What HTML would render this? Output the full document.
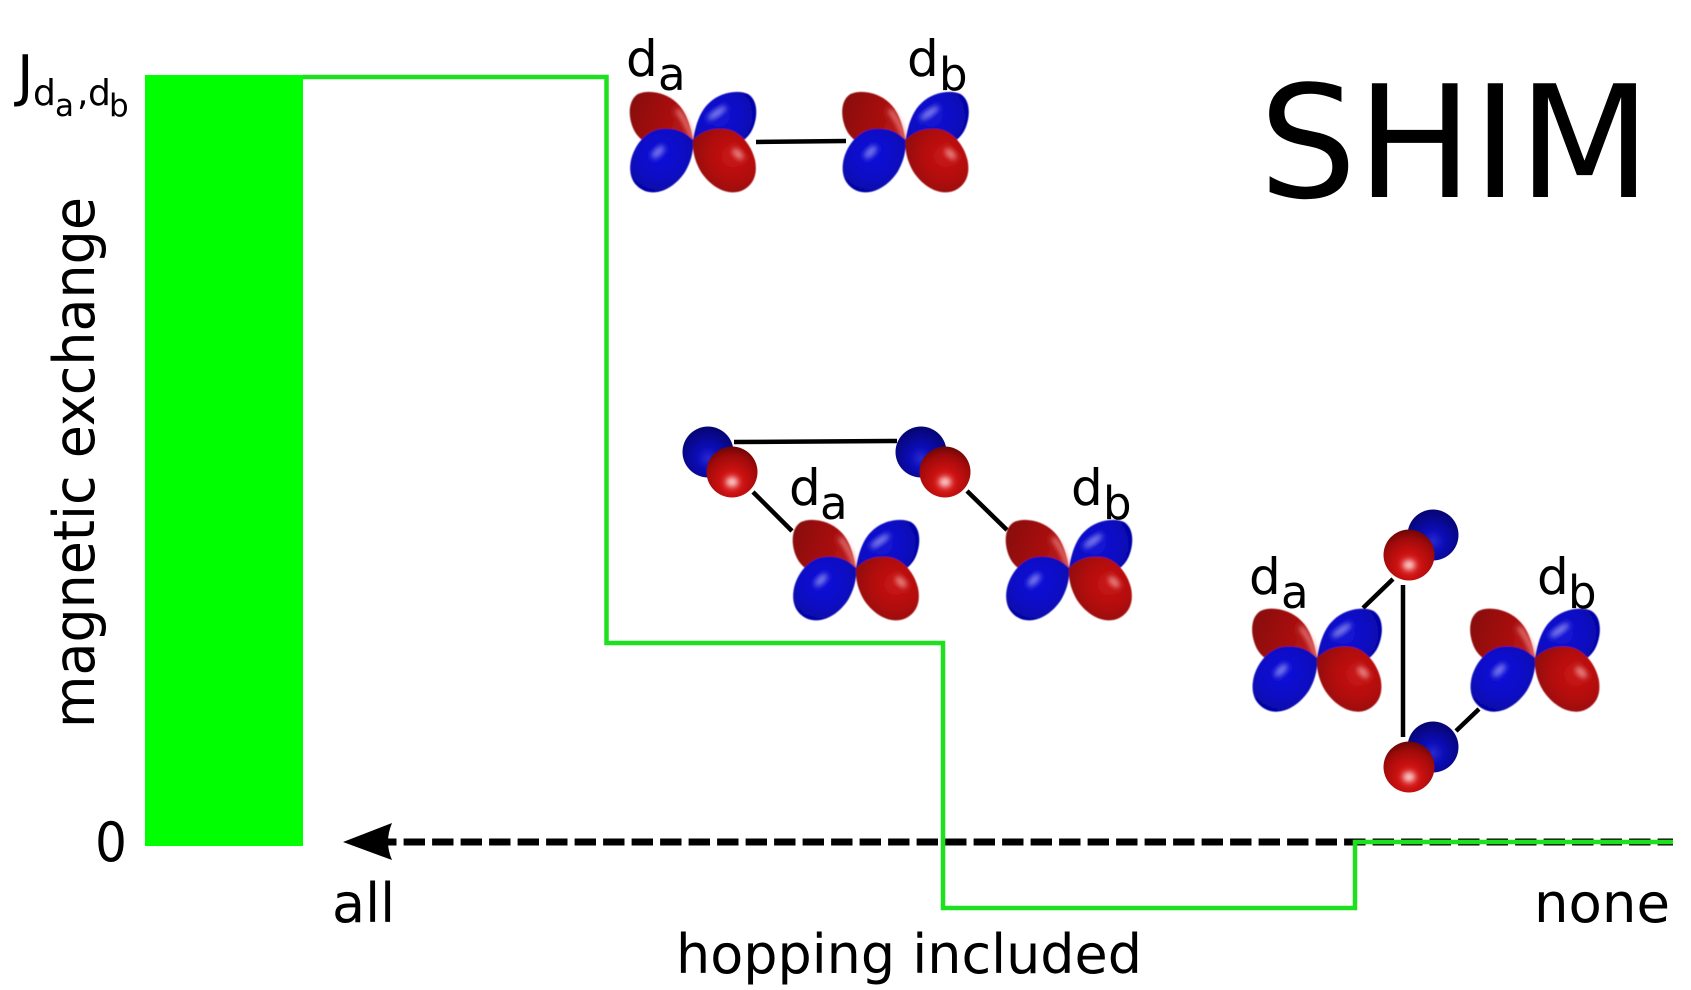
<!DOCTYPE html>
<html><head><meta charset="utf-8"><style>
html,body{margin:0;padding:0;background:#fff;}
svg{display:block;}
text{font-family:"DejaVu Sans","Liberation Sans",sans-serif;fill:#000;}
</style></head><body>
<svg width="1691" height="990" viewBox="0 0 1691 990" xmlns="http://www.w3.org/2000/svg">
<defs>
<filter id="bl2" x="-50%" y="-50%" width="200%" height="200%"><feGaussianBlur stdDeviation="2.6"/></filter>
<filter id="soft" x="-10%" y="-10%" width="120%" height="120%"><feGaussianBlur stdDeviation="0.5"/></filter>
<radialGradient id="bl" gradientUnits="userSpaceOnUse" cx="-33" cy="14" r="50">
<stop offset="0" stop-color="#1414dc"/><stop offset=".5" stop-color="#0808c4"/><stop offset=".85" stop-color="#06069e"/><stop offset="1" stop-color="#04047c"/></radialGradient>
<radialGradient id="rl" gradientUnits="userSpaceOnUse" cx="40" cy="16" r="56">
<stop offset="0" stop-color="#cc1616"/><stop offset=".45" stop-color="#b00c0c"/><stop offset=".8" stop-color="#8c0808"/><stop offset="1" stop-color="#680505"/></radialGradient>
<radialGradient id="bu" gradientUnits="userSpaceOnUse" cx="26" cy="-24" r="48">
<stop offset="0" stop-color="#1818d8"/><stop offset=".55" stop-color="#0808c0"/><stop offset="1" stop-color="#04048c"/></radialGradient>
<linearGradient id="ru" gradientUnits="userSpaceOnUse" x1="-62" y1="-34" x2="-6" y2="-14">
<stop offset="0" stop-color="#8a0c0c"/><stop offset=".6" stop-color="#a61010"/><stop offset="1" stop-color="#b81414"/></linearGradient>
<radialGradient id="sb" cx=".5" cy=".62" r=".62">
<stop offset="0" stop-color="#2828d0"/><stop offset=".35" stop-color="#0c0cb8"/><stop offset="1" stop-color="#050570"/></radialGradient>
<radialGradient id="sr" cx=".5" cy=".7" r=".75">
<stop offset="0" stop-color="#e83030"/><stop offset=".35" stop-color="#c81010"/><stop offset=".7" stop-color="#a00a0a"/><stop offset="1" stop-color="#5a0505"/></radialGradient>
<g id="orb" filter="url(#soft)">
<path d="M0,0 C-2,-12 -6,-28 -16,-37 C-26,-47 -44,-51 -55,-46 C-65,-40 -65,-24 -60,-12 C-55,0 -44,6 -30,8 C-18,10 -8,6 0,0 Z" fill="url(#ru)"/>
<path d="M0,1 C-3,-10 -9,-22 -16,-30" stroke="#ef8a8a" stroke-width="4" fill="none" filter="url(#bl2)"/>
<path d="M0,0 C2,-12 6,-28 16,-37 C26,-47 44,-51 55,-46 C65,-40 65,-24 60,-12 C55,0 44,6 30,8 C18,10 8,6 0,0 Z" fill="url(#bu)"/>
<ellipse cx="24" cy="-27" rx="11" ry="3" transform="rotate(-35 24 -27)" fill="#a8a8f4" opacity=".8" filter="url(#bl2)"/>
<path d="M0,0 C-10,-10 -20,-12 -32,-11 C-45,-10 -58,3 -62,20 C-65,35 -60,46 -48,51 C-34,56 -18,47 -8,32 C-2,22 1,10 0,0 Z" fill="url(#bl)"/>
<ellipse cx="-35" cy="12" rx="8" ry="3.5" transform="rotate(-45 -35 12)" fill="#b0b0f6" opacity=".7" filter="url(#bl2)"/>
<path d="M0,0 C10,-10 20,-12 32,-11 C45,-10 58,3 62,20 C65,35 60,46 48,51 C34,56 18,47 8,32 C2,22 -1,10 0,0 Z" fill="url(#rl)"/>
<ellipse cx="45" cy="14" rx="7" ry="3.5" transform="rotate(45 45 14)" fill="#f4b4b4" opacity=".75" filter="url(#bl2)"/>
</g>
<g id="sph">
<circle cx="-12" cy="-10" r="25.5" fill="url(#sb)"/>
<circle cx="12" cy="10" r="25.5" fill="url(#sr)"/>
<ellipse cx="12" cy="20" rx="6" ry="5" fill="#f8c8c8" filter="url(#bl2)"/>
</g>
<g id="sph2">
<circle cx="12" cy="-10" r="25.5" fill="url(#sb)"/>
<circle cx="-12" cy="10" r="25.5" fill="url(#sr)"/>
<ellipse cx="-12" cy="20" rx="6" ry="5" fill="#f8c8c8" filter="url(#bl2)"/>
</g>
</defs>

<!-- green bar -->
<rect x="145" y="75" width="158" height="771" fill="#00ff00"/>

<!-- dashed axis -->
<line x1="1673" y1="842" x2="380" y2="842" stroke="#000" stroke-width="7" stroke-dasharray="21.4 7.1" stroke-dashoffset="6"/>
<path d="M343,842 L392,823 Q384,842 392,860 Z" fill="#000"/>

<!-- green step line -->
<path d="M303,77 H606.5 V643 H943 V908 H1355 V842 H1673" fill="none" stroke="#1fe01f" stroke-width="4.5"/>

<!-- connectors -->
<g stroke="#000" stroke-width="4.5" fill="none">
<line x1="756" y1="142" x2="846" y2="141"/>
<line x1="734" y1="442" x2="897" y2="441"/>
<line x1="753" y1="492" x2="792" y2="531"/>
<line x1="967" y1="491" x2="1007" y2="530"/>
<line x1="1363" y1="608" x2="1393" y2="579"/>
<line x1="1403" y1="585" x2="1403" y2="737"/>
<line x1="1456" y1="731" x2="1479" y2="709"/>
</g>

<!-- orbitals -->
<use href="#orb" transform="translate(693,140)"/>
<use href="#orb" transform="translate(905.5,140)"/>
<use href="#orb" transform="translate(856,568)"/>
<use href="#orb" transform="translate(1069,568)"/>
<use href="#orb" transform="translate(1317,658) scale(1.025)"/>
<use href="#orb" transform="translate(1535,658) scale(1.025)"/>
<use href="#sph" transform="translate(720,462)"/>
<use href="#sph" transform="translate(933,462)"/>
<use href="#sph2" transform="translate(1421,545)"/>
<use href="#sph2" transform="translate(1421,757)"/>

<!-- labels -->
<text x="1259" y="197" font-size="156" textLength="392" lengthAdjust="spacingAndGlyphs">SHIM</text>
<text transform="translate(94,728) rotate(-90)" font-size="57" textLength="531" lengthAdjust="spacingAndGlyphs">magnetic exchange</text>
<text x="676" y="973" font-size="54" textLength="466" lengthAdjust="spacingAndGlyphs">hopping included</text>
<text x="332" y="922" font-size="54">all</text>
<text x="1534" y="922" font-size="54" textLength="136" lengthAdjust="spacingAndGlyphs">none</text>
<text x="95" y="861" font-size="54" textLength="32" lengthAdjust="spacingAndGlyphs">0</text>

<text x="17" y="95" font-size="56">J</text>
<text x="33" y="105" font-size="36">d</text>
<text x="55" y="116" font-size="31">a</text>
<text x="77" y="105" font-size="36">,</text>
<text x="88" y="105" font-size="36">d</text>
<text x="109" y="116" font-size="31">b</text>

<text x="626" y="76" font-size="50">d</text><text x="658" y="90" font-size="45">a</text>
<text x="907" y="76" font-size="50">d</text><text x="939" y="90" font-size="45">b</text>
<text x="789" y="505" font-size="50">d</text><text x="820" y="519" font-size="45">a</text>
<text x="1071" y="505" font-size="50">d</text><text x="1103" y="519" font-size="45">b</text>
<text x="1249" y="594" font-size="50">d</text><text x="1281" y="608" font-size="45">a</text>
<text x="1537" y="594" font-size="50">d</text><text x="1568" y="608" font-size="45">b</text>
</svg>
</body></html>
